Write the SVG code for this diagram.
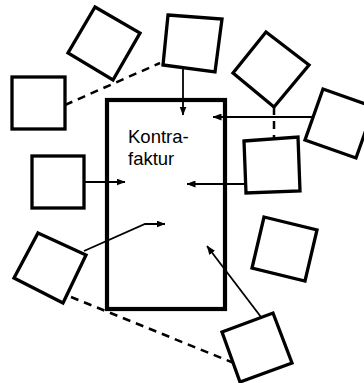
<svg xmlns="http://www.w3.org/2000/svg" width="364" height="383" viewBox="0 0 364 383">
<style>
.box{fill:#fff;stroke:#000;stroke-width:3.3;stroke-linejoin:miter}
.main{fill:#fff;stroke:#000;stroke-width:4.2}
.arr{fill:none;stroke:#000;stroke-width:1.8;marker-end:url(#ah)}
.dash{fill:none;stroke:#000;stroke-width:2.5;stroke-dasharray:8 6}
.lbl{font-family:"Liberation Sans",Arial,sans-serif;font-size:18.5px;fill:#000}
</style>
<defs>
<marker id="ah" markerUnits="userSpaceOnUse" markerWidth="9" markerHeight="7" refX="8.5" refY="3.5" orient="auto">
<path d="M0,0 L9,3.5 L0,7 z" fill="#000"/>
</marker>
</defs>
<rect width="364" height="383" fill="#fff"/>
<g id="main">
<rect class="main" x="107" y="100" width="118" height="209"/>
<text class="lbl" x="128" y="143">Kontra-</text>
<text class="lbl" x="128" y="165">faktur</text>
</g>
<g id="connectors">
<line class="dash" x1="65" y1="105" x2="160" y2="63"/>
<line class="dash" x1="274" y1="107" x2="274" y2="139"/>
<line class="dash" x1="71" y1="297" x2="234" y2="363"/>
<line class="arr" x1="183" y1="68" x2="183" y2="115"/>
<line class="arr" x1="313" y1="117" x2="213" y2="117"/>
<line class="arr" x1="246" y1="184" x2="187" y2="184"/>
<line class="arr" x1="83" y1="182" x2="125" y2="182"/>
<polyline class="arr" points="84,251 145,224 165,224"/>
<line class="arr" x1="261" y1="317" x2="207" y2="246"/>
</g>
<g id="box-a"><polygon class="box" points="95,7 140,33 113,80 68,53"/></g>
<g id="box-b"><polygon class="box" points="168,15 222,19 215,72 163,65"/></g>
<g id="box-c"><polygon class="box" points="266,32 309,65 274,107 233,73"/></g>
<g id="box-d"><polygon class="box" points="323,89 374,107 356,158 305,140"/></g>
<g id="box-e"><polygon class="box" points="244,141 298,137 300,191 246,193"/></g>
<g id="box-f"><rect class="box" x="12" y="77" width="53" height="52"/></g>
<g id="box-g"><rect class="box" x="32" y="156" width="52" height="52"/></g>
<g id="box-h"><polygon class="box" points="38,233 86,255 63,303 14,278"/></g>
<g id="box-i"><polygon class="box" points="222,332 273,313 292,363 240,382"/></g>
<g id="box-j"><polygon class="box" points="264,217 317,230 305,281 252,268"/></g>
</svg>
